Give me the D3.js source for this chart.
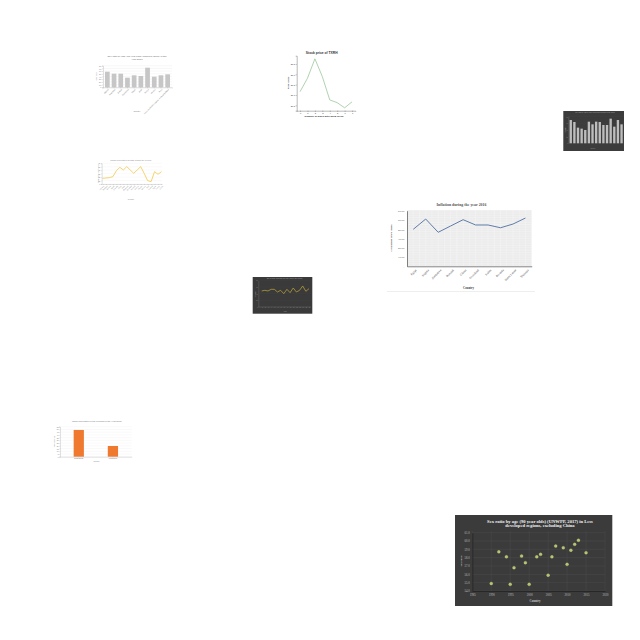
<!DOCTYPE html>
<html><head><meta charset="utf-8">
<script src="https://cdn.jsdelivr.net/npm/d3@7/dist/d3.min.js"></script>
<style>body{margin:0;background:#fff}svg{display:block}</style>
</head><body>
<script>
// ---------- DATA ----------
// A: grey bars (top-left)
const sr75Countries = ["Algeria","Argentina","Bolivia","Cambodia","Egypt","India","Kenya","Mexico","Peru","Less developed regions, excluding China"];
const sr75Values = [57.8,50.4,50.4,35.6,44.4,41.9,72.6,39.3,44.4,48.1];
const sr75Ticks = [0,10,20,30,40,50,60,70,80];
// B: stock price
const txrhDays = [0,1,2,3,4,5,6,7];
const txrhPrices = [37.16,37.81,38.75,37.89,36.76,36.63,36.38,36.67];
const txrhTicks = [36.5,37.0,37.5,38.0,38.5];
// C: yellow line
const urbCountries = ["Albania","Belgium","Bhutan","Brazil","Canada","Chile","Cuba","Denmark","Ecuador","Finland","France","Gabon","Greece","Haiti","Iceland","Japan","Kenya","Latvia"];
const urbValues = [16.5,17.4,18.4,21.3,38.7,48.4,40.6,50.3,40.6,31.0,40.6,50.3,31.0,9.7,6.8,35.8,28.1,35.8];
const urbTicks = [0,10,20,30,40,50,60];
// D: inflation
const inflCountries = ["Egypt","Nigeria","Zimbabwe","Burundi","Ghana","Swaziland","Sudan","Rwanda","Sierra Leone","Tanzania"];
const inflValues = [39.9,51.0,36.7,43.5,50.3,44.6,44.6,41.6,45.6,52.1];
const inflTicks = [0,10,20,30,40,50,60];
// E: dark scatter
const sr90Years = [1990,1992,1994,1995,1996,1998,1999,2000,2002,2003,2005,2006,2007,2009,2010,2011,2012,2013,2015];
const sr90Values = [54.9,58.7,58.1,54.8,56.8,58.2,57.4,54.8,58.1,58.4,55.9,58.1,59.4,59.2,57.2,58.9,59.6,60.1,58.6];
const sr90YTicks = [54,55,56,57,58,59,60,61];
const sr90XTicks = [1985,1990,1995,2000,2005,2010,2015,2020];
// F: orange bars
const slumCountries = ["Bangladesh","Philippines"];
const slumValues = [49,19.6];
const slumTicks = [0,5,10,15,20,25,30,35,40,45,50,55];
// G: dark line
const darkLineX = ["1","2","3","4","5","6","7","8","9","10","11","12","13","14","15","16"];
const darkLineValues = [48,50,48,53,53,45,50,40,53,43,57,45,50,63,47,55];
// H: dark bars
const darkBarCats = ["a","b","c","d","e","f","g","h","i","j","k","l","m","n","o"];
const darkBarValues = [70,64,47,44,40,65,57,65,64,55,55,74,50,70,57];

// ---------- DRAW ----------
const svg = d3.select("body").append("svg").attr("width",640).attr("height",640);
const sans = "Liberation Sans, Arial, sans-serif";
const serif = "Liberation Serif, DejaVu Serif, serif";

function styleAxis(g, size, color, lineColor, sw){
  g.attr("font-size",size).attr("font-family",sans);
  g.selectAll("text").attr("fill",color);
  g.selectAll("path,line").attr("stroke",lineColor).attr("stroke-width",sw);
}

// ---- A ----
{
  const g = svg.append("g");
  const x = d3.scaleBand().domain(sr75Countries).range([103,172]).padding(0.3);
  const y = d3.scaleLinear().domain([0,80]).range([87.3,65.7]);
  g.selectAll(".gl").data(sr75Ticks).join("line").attr("x1",103).attr("x2",172)
    .attr("y1",d=>y(d)).attr("y2",d=>y(d)).attr("stroke","#e4e4e4").attr("stroke-width",0.3);
  g.selectAll("rect").data(sr75Values).join("rect")
    .attr("x",(d,i)=>x(sr75Countries[i])).attr("width",x.bandwidth())
    .attr("y",d=>y(d)).attr("height",d=>y(0)-y(d)).attr("fill","#c6c6c6");
  const ya = g.append("g").attr("transform","translate(103,0)").call(d3.axisLeft(y).tickValues(sr75Ticks).tickSize(1).tickPadding(0.8));
  styleAxis(ya,1.9,"#777","#999",0.3);
  const xa = g.append("g").attr("transform","translate(0,87.3)").call(d3.axisBottom(x).tickSize(1).tickPadding(0.5));
  styleAxis(xa,1.9,"#777","#999",0.3);
  xa.selectAll("text").attr("text-anchor","end").attr("transform","translate(0,1) rotate(-45)").attr("dy","0.3em");
  g.append("text").attr("x",137).attr("y",56.8).attr("text-anchor","middle").attr("font-size",2.5).attr("font-family",sans).attr("fill","#666")
    .text("Sex ratio by age (75 year olds) (UNWPP, 2017) in the");
  g.append("text").attr("x",137).attr("y",59.9).attr("text-anchor","middle").attr("font-size",2.5).attr("font-family",sans).attr("fill","#666")
    .text("year 2017");
  g.append("text").attr("x",137).attr("y",111.8).attr("text-anchor","middle").attr("font-size",2).attr("font-family",sans).attr("fill","#777").text("Country");
  g.append("text").attr("transform","translate(97.2,76.5) rotate(-90)").attr("text-anchor","middle").attr("font-size",2).attr("font-family",sans).attr("fill","#777").text("Sex ratio");
}

// ---- B ----
{
  const g = svg.append("g");
  const x = d3.scaleLinear().domain([-0.45,7.45]).range([296.7,355.4]);
  const y = d3.scaleLinear().domain([36.24,38.9]).range([110.7,55.7]);
  g.append("path").datum(txrhPrices.map((p,i)=>[txrhDays[i],p]))
    .attr("d",d3.line().x(d=>x(d[0])).y(d=>y(d[1]))).attr("fill","none").attr("stroke","#8fbf8f").attr("stroke-width",0.7);
  const ya = g.append("g").attr("transform","translate(296.7,0)").call(d3.axisLeft(y).tickValues(txrhTicks).tickFormat(d3.format(".1f")).tickSize(1).tickPadding(0.8));
  styleAxis(ya,2.2,"#333","#333",0.35);
  const xa = g.append("g").attr("transform","translate(0,110.7)").call(d3.axisBottom(x).tickValues(txrhDays).tickSize(1).tickPadding(0.6));
  styleAxis(xa,2.2,"#333","#333",0.35);
  g.append("text").attr("x",321.7).attr("y",54.3).attr("text-anchor","middle").attr("font-size",3.3).attr("font-weight","bold").attr("font-family",sans).attr("fill","#333").text("Stock price of TXRH");
  g.append("text").attr("x",324).attr("y",117).attr("text-anchor","middle").attr("font-size",2.5).attr("font-weight","bold").attr("font-family",sans).attr("fill","#333").text("Number of Days after 2015-10-06");
  g.append("text").attr("transform","translate(289,83) rotate(-90)").attr("text-anchor","middle").attr("font-size",2.3).attr("font-weight","bold").attr("font-family",sans).attr("fill","#333").text("Price (USD)");
}

// ---- C ----
{
  const g = svg.append("g");
  const x = d3.scalePoint().domain(urbCountries).range([102.5,161.5]);
  const y = d3.scaleLinear().domain([0,60]).range([184,163.3]);
  g.selectAll(".gl").data(urbTicks).join("line").attr("x1",101.7).attr("x2",162)
    .attr("y1",d=>y(d)).attr("y2",d=>y(d)).attr("stroke","#eee").attr("stroke-width",0.3);
  g.append("path").datum(urbValues).attr("d",d3.line().x((d,i)=>x(urbCountries[i])).y(d=>y(d)))
    .attr("fill","none").attr("stroke","#f2c84b").attr("stroke-width",0.8);
  const ya = g.append("g").attr("transform","translate(101.7,0)").call(d3.axisLeft(y).tickValues(urbTicks).tickSize(0.8).tickPadding(0.6));
  styleAxis(ya,1.7,"#777","#999",0.3);
  const xa = g.append("g").attr("transform","translate(0,184)").call(d3.axisBottom(x).tickSize(0.8).tickPadding(0.4));
  styleAxis(xa,1.7,"#777","#999",0.3);
  xa.selectAll("text").attr("text-anchor","end").attr("transform","translate(0,1) rotate(-45)").attr("dy","0.3em");
  g.append("text").attr("x",130.7).attr("y",160.5).attr("text-anchor","middle").attr("font-size",2.2).attr("font-family",sans).attr("fill","#888").text("Urban population growth during the period");
  g.append("text").attr("x",131).attr("y",199.5).attr("text-anchor","middle").attr("font-size",1.8).attr("font-family",sans).attr("fill","#888").text("Country");
  g.append("text").attr("transform","translate(98.6,173.6) rotate(-90)").attr("text-anchor","middle").attr("font-size",1.8).attr("font-family",sans).attr("fill","#888").text("Growth rate (annual %)");
}

// ---- D ----
{
  const g = svg.append("g");
  const x = d3.scalePoint().domain(inflCountries).range([407,531.7]).padding(0.5);
  const y = d3.scaleLinear().domain([0,60]).range([266.3,210.7]);
  g.append("rect").attr("x",407).attr("y",210).attr("width",124.7).attr("height",56.3).attr("fill","#ececec");
  const minor = d3.range(0,61,2.5);
  g.selectAll(".gy").data(minor).join("line").attr("x1",407).attr("x2",531.7)
    .attr("y1",d=>y(d)).attr("y2",d=>y(d)).attr("stroke","#fafafa").attr("stroke-width",0.3);
  const xs = d3.range(0,inflCountries.length*2+1).map(i=>407+i*124.7/(inflCountries.length*2));
  g.selectAll(".gx").data(xs).join("line").attr("x1",d=>d).attr("x2",d=>d)
    .attr("y1",210).attr("y2",266.3).attr("stroke","#fafafa").attr("stroke-width",0.3);
  g.append("path").datum(inflValues).attr("d",d3.line().x((d,i)=>x(inflCountries[i])).y(d=>y(d)))
    .attr("fill","none").attr("stroke","#4f6fa0").attr("stroke-width",0.9);
  const ya = g.append("g").attr("transform","translate(407,0)").call(d3.axisLeft(y).tickValues(inflTicks).tickFormat(d=>d===0?"-":d3.format(".2f")(d)).tickSize(0).tickPadding(2.5));
  styleAxis(ya,2.9,"#444","#333",0.6);
  ya.attr("font-family",serif);
  const xa = g.append("g").attr("transform","translate(0,266.3)").call(d3.axisBottom(x).tickSize(0).tickPadding(2));
  styleAxis(xa,3,"#444","#333",0.6);
  xa.attr("font-family",serif);
  xa.selectAll("text").attr("text-anchor","end").attr("transform","translate(1,2) rotate(-45)").attr("dy","0.3em");
  g.append("text").attr("x",461.5).attr("y",206.3).attr("text-anchor","middle").attr("font-size",3.9).attr("font-weight","bold").attr("font-family",serif).attr("fill","#555").text("Inflation during the year 2016");
  g.append("text").attr("x",468.5).attr("y",289).attr("text-anchor","middle").attr("font-size",3).attr("font-weight","bold").attr("font-family",serif).attr("fill","#444").text("Country");
  g.append("text").attr("transform","translate(392,238) rotate(-90)").attr("text-anchor","middle").attr("font-size",2.9).attr("font-weight","bold").attr("font-family",serif).attr("fill","#444").text("Consumer price index");
  g.append("line").attr("x1",387).attr("x2",535).attr("y1",291.5).attr("y2",291.5).attr("stroke","#e2e2e2").attr("stroke-width",0.6);
}

// ---- E ----
{
  const g = svg.append("g");
  g.append("rect").attr("x",455).attr("y",515).attr("width",157.3).attr("height",91).attr("fill","#3b3b3b");
  const x = d3.scaleLinear().domain([1985,2020]).range([472.3,605]);
  const y = d3.scaleLinear().domain([54,61]).range([591,532.7]);
  g.selectAll(".gy").data(sr90YTicks).join("line").attr("x1",472.3).attr("x2",605)
    .attr("y1",d=>y(d)).attr("y2",d=>y(d)).attr("stroke","#535353").attr("stroke-width",0.35);
  g.selectAll(".gx").data(sr90XTicks).join("line").attr("x1",d=>x(d)).attr("x2",d=>x(d))
    .attr("y1",531).attr("y2",591).attr("stroke","#535353").attr("stroke-width",0.35);
  const ya = g.append("g").attr("transform","translate(472.3,0)").call(d3.axisLeft(y).tickValues(sr90YTicks).tickSize(0).tickPadding(2.5));
  styleAxis(ya,3,"#bdbdbd","#1e1e1e",0.7);
  ya.attr("font-family",serif);
  const xa = g.append("g").attr("transform","translate(0,591)").call(d3.axisBottom(x).tickValues(sr90XTicks).tickFormat(d3.format("d")).tickSize(0).tickPadding(2.5));
  styleAxis(xa,3,"#bdbdbd","#1e1e1e",0.7);
  xa.attr("font-family",serif);
  g.selectAll(".pt").data(sr90Values).join("circle")
    .attr("cx",(d,i)=>x(sr90Years[i])).attr("cy",d=>y(d)).attr("r",1.5)
    .attr("fill","#b7c46a").attr("stroke","#d8e0a0").attr("stroke-width",0.4).attr("stroke-opacity",0.6);
  g.append("text").attr("x",540).attr("y",522.5).attr("text-anchor","middle").attr("font-size",4.6).attr("font-weight","bold").attr("font-family",serif).attr("fill","#f2f2f2").text("Sex ratio by age (90 year olds) (UNWPP, 2017) in Less");
  g.append("text").attr("x",540).attr("y",527.4).attr("text-anchor","middle").attr("font-size",4.6).attr("font-weight","bold").attr("font-family",serif).attr("fill","#f2f2f2").text("developed regions, excluding China");
  g.append("text").attr("x",535).attr("y",602).attr("text-anchor","middle").attr("font-size",3).attr("font-weight","bold").attr("font-family",serif).attr("fill","#c4c4c4").text("Country");
  g.append("text").attr("transform","translate(462,561) rotate(-90)").attr("text-anchor","middle").attr("font-size",2.9).attr("font-weight","bold").attr("font-family",serif).attr("fill","#c4c4c4").text("Sex ratio");
}

// ---- F ----
{
  const g = svg.append("g");
  const x = d3.scaleBand().domain(slumCountries).range([60,131.7]).paddingInner(0.7).paddingOuter(0.4);
  const y = d3.scaleLinear().domain([0,55]).range([456.7,426.7]);
  g.selectAll(".gl").data(slumTicks).join("line").attr("x1",60).attr("x2",131.7)
    .attr("y1",d=>y(d)).attr("y2",d=>y(d)).attr("stroke","#ececec").attr("stroke-width",0.3);
  g.selectAll("rect").data(slumValues).join("rect")
    .attr("x",(d,i)=>x(slumCountries[i])).attr("width",x.bandwidth())
    .attr("y",d=>y(d)).attr("height",d=>y(0)-y(d)).attr("fill","#ef7a2f");
  const ya = g.append("g").attr("transform","translate(60,0)").call(d3.axisLeft(y).tickValues(slumTicks).tickSize(0.8).tickPadding(0.6));
  styleAxis(ya,1.7,"#777","#999",0.3);
  const xa = g.append("g").attr("transform","translate(0,456.7)").call(d3.axisBottom(x).tickSize(0.6).tickPadding(0.4));
  styleAxis(xa,1.7,"#777","#999",0.3);
  g.append("text").attr("x",96.7).attr("y",422.2).attr("text-anchor","middle").attr("font-size",2.3).attr("font-family",sans).attr("fill","#777").text("Urban population living in slums in the year 2005");
  g.append("text").attr("x",96.7).attr("y",461.6).attr("text-anchor","middle").attr("font-size",1.8).attr("font-family",sans).attr("fill","#888").text("Country");
  g.append("text").attr("transform","translate(54.5,441.7) rotate(-90)").attr("text-anchor","middle").attr("font-size",1.8).attr("font-family",sans).attr("fill","#888").text("Population (%)");
}

// ---- G ----
{
  const g = svg.append("g");
  g.append("rect").attr("x",252.7).attr("y",277).attr("width",59.6).attr("height",36.7).attr("fill","#3a3a3a");
  const x = d3.scalePoint().domain(darkLineX).range([261.7,309]);
  const y = d3.scaleLinear().domain([0,80]).range([307,280.3]);
  g.selectAll(".gl").data([0,20,40,60,80]).join("line").attr("x1",258.3).attr("x2",311)
    .attr("y1",d=>y(d)).attr("y2",d=>y(d)).attr("stroke","#474747").attr("stroke-width",0.25);
  g.append("path").datum(darkLineValues).attr("d",d3.line().x((d,i)=>x(darkLineX[i])).y(d=>y(d)))
    .attr("fill","none").attr("stroke","#c3aa3c").attr("stroke-width",0.7);
  const ya = g.append("g").attr("transform","translate(258.3,0)").call(d3.axisLeft(y).tickValues([0,20,40,60,80]).tickSize(0).tickPadding(0.6));
  styleAxis(ya,1.3,"#999","#888",0.3);
  const xa = g.append("g").attr("transform","translate(0,307)").call(d3.axisBottom(x).tickSize(0).tickPadding(0.6));
  styleAxis(xa,1.1,"#999","#888",0.3);
  xa.select(".domain").attr("d","M258.3,0H311");
  g.append("text").attr("x",284.8).attr("y",279).attr("text-anchor","middle").attr("font-size",1.6).attr("font-family",sans).attr("fill","#aaa").text("Tax revenue collected over the years in the country");
  g.append("text").attr("x",285).attr("y",311.8).attr("text-anchor","middle").attr("font-size",1.4).attr("font-family",sans).attr("fill","#999").text("Years");
  g.append("text").attr("transform","translate(255.5,293.6) rotate(-90)").attr("text-anchor","middle").attr("font-size",1.3).attr("font-family",sans).attr("fill","#999").text("Revenue");
}

// ---- H ----
{
  const g = svg.append("g");
  g.append("rect").attr("x",563.3).attr("y",111).attr("width",60.7).attr("height",40).attr("fill","#3c3c3c");
  const x = d3.scaleBand().domain(darkBarCats).range([568.3,624]).padding(0.35);
  const y = d3.scaleLinear().domain([0,82]).range([143.3,116]);
  g.selectAll(".gl").data([0,20,40,60,80]).join("line").attr("x1",568.3).attr("x2",624)
    .attr("y1",d=>y(d)).attr("y2",d=>y(d)).attr("stroke","#4a4a4a").attr("stroke-width",0.25);
  g.selectAll(".bar").data(darkBarValues).join("rect")
    .attr("x",(d,i)=>x(darkBarCats[i])).attr("width",x.bandwidth())
    .attr("y",d=>y(d)).attr("height",d=>y(0)-y(d)).attr("fill","#bdbdbd");
  const ya = g.append("g").attr("transform","translate(568.3,0)").call(d3.axisLeft(y).tickValues([0,20,40,60,80]).tickSize(0).tickPadding(0.6));
  styleAxis(ya,1.2,"#999","#888",0.3);
  g.append("text").attr("x",595).attr("y",113.3).attr("text-anchor","middle").attr("font-size",1.6).attr("font-family",sans).attr("fill","#aaa").text("Sex ratio by age in more developed regions of the world");
  g.append("text").attr("x",593).attr("y",148.6).attr("text-anchor","middle").attr("font-size",1.4).attr("font-family",sans).attr("fill","#999").text("Country");
  g.append("text").attr("transform","translate(565.5,130) rotate(-90)").attr("text-anchor","middle").attr("font-size",1.3).attr("font-family",sans).attr("fill","#999").text("Sex ratio");
}
</script>
</body></html>
